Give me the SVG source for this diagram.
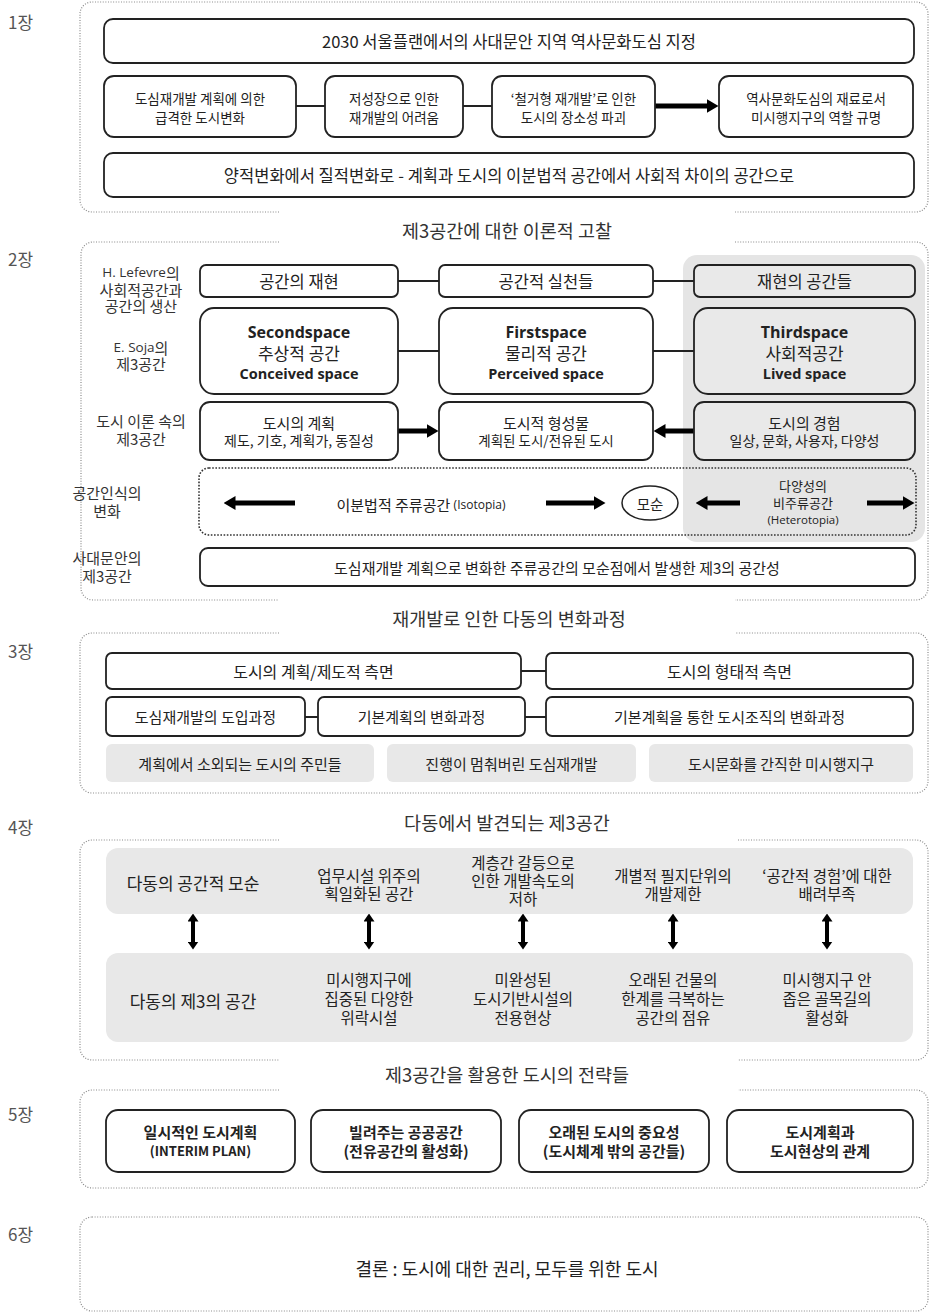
<svg xmlns="http://www.w3.org/2000/svg" width="930" height="1315" viewBox="0 0 930 1315">
<style>
text{font-family:"Noto Sans CJK KR","Noto Sans",sans-serif;fill:#222;dominant-baseline:central;text-anchor:middle}
.lat{font-family:"Open Sans","Noto Sans CJK KR",sans-serif}
.ch{font-size:17px;fill:#555;text-anchor:start}
.ttl{font-size:18.5px;fill:#333}
.frame{fill:none;stroke:#8a8a8a;stroke-width:1.2;stroke-dasharray:1 1.6}
.box{fill:#fff;stroke:#222;stroke-width:1.8}
.gbox{fill:#e9e9e9;stroke:#222;stroke-width:1.8}
.gray{fill:#e8e8e8;stroke:none}
.ln{stroke:#222;stroke-width:2;fill:none}
.arr{stroke:#000;stroke-width:5;fill:none}
.darr{stroke:#000;stroke-width:4;fill:none}
.lbl{font-size:15px;fill:#333}
.b{font-weight:bold}
</style>
<defs>
<marker id="ah" viewBox="0 0 12 14" markerWidth="12" markerHeight="14" refX="0.5" refY="7" markerUnits="userSpaceOnUse" orient="auto-start-reverse"><path d="M0,0 L12,7 L0,14 z" fill="#000"/></marker>
<marker id="ahs" viewBox="0 0 8 11" markerWidth="8" markerHeight="11" refX="0.5" refY="5.5" markerUnits="userSpaceOnUse" orient="auto-start-reverse"><path d="M0,0 L8,5.5 L0,11 z" fill="#000"/></marker>
</defs>

<!-- chapter frames -->
<g id="frames">
<path class="frame" d="M279 212 L92 212 A12 12 0 0 1 80 200 L80 14 A12 12 0 0 1 92 2 L916 2 A12 12 0 0 1 928 14 L928 200 A12 12 0 0 1 916 212 L735 212"/>
<path class="frame" d="M279 242 L93 242 A12 12 0 0 0 81 254 L81 588 A12 12 0 0 0 93 600 L279 600"/>
<path class="frame" d="M735 242 L916 242 A12 12 0 0 1 928 254 L928 588 A12 12 0 0 1 916 600 L735 600"/>
<path class="frame" d="M279 633 L92 633 A12 12 0 0 0 80 645 L80 781 A12 12 0 0 0 92 793 L916 793 A12 12 0 0 0 928 781 L928 645 A12 12 0 0 0 916 633 L735 633"/>
<path class="frame" d="M279 840 L92 840 A12 12 0 0 0 80 852 L80 1048 A12 12 0 0 0 92 1060 L279 1060"/>
<path class="frame" d="M738 840 L916 840 A12 12 0 0 1 928 852 L928 1048 A12 12 0 0 1 916 1060 L738 1060"/>
<path class="frame" d="M279 1090 L92 1090 A12 12 0 0 0 80 1102 L80 1176 A12 12 0 0 0 92 1188 L916 1188 A12 12 0 0 0 928 1176 L928 1102 A12 12 0 0 0 916 1090 L738 1090"/>
<rect class="frame" x="80" y="1217" width="848" height="94" rx="12"/>
</g>

<!-- chapter labels and titles -->
<g id="labels">
<text class="ch" x="8" y="21">1장</text>
<text class="ch" x="8" y="258">2장</text>
<text class="ch" x="8" y="650">3장</text>
<text class="ch" x="8" y="826">4장</text>
<text class="ch" x="8" y="1113">5장</text>
<text class="ch" x="8" y="1233">6장</text>
<text class="ttl" x="507" y="230">제3공간에 대한 이론적 고찰</text>
<text class="ttl" x="509" y="618">재개발로 인한 다동의 변화과정</text>
<text class="ttl" x="507" y="822">다동에서 발견되는 제3공간</text>
<text class="ttl" x="507" y="1074">제3공간을 활용한 도시의 전략들</text>
</g>

<!-- background panels -->
<g id="panels">
<rect x="683" y="255" width="242" height="287" rx="14" fill="#e5e5e5"/>
<rect class="gray" x="106" y="848" width="807" height="66" rx="12"/>
<rect class="gray" x="106" y="953" width="807" height="89" rx="12"/>
</g>

<!-- connectors -->
<g id="connectors">
<line class="ln" x1="296" y1="106" x2="325" y2="106"/>
<line class="ln" x1="463" y1="106" x2="492" y2="106"/>
<line class="arr" x1="655" y1="106" x2="707" y2="106" marker-end="url(#ah)"/>
<line class="ln" x1="398" y1="281" x2="439" y2="281"/>
<line class="ln" x1="653" y1="281" x2="694" y2="281"/>
<line class="ln" x1="398" y1="351" x2="439" y2="351"/>
<line class="ln" x1="653" y1="351" x2="694" y2="351"/>
<line class="arr" x1="398" y1="431" x2="427" y2="431" marker-end="url(#ah)"/>
<line class="arr" x1="694" y1="431" x2="665" y2="431" marker-end="url(#ah)"/>
<line class="arr" x1="295" y1="503" x2="235" y2="503" marker-end="url(#ah)"/>
<line class="arr" x1="546" y1="503" x2="594" y2="503" marker-end="url(#ah)"/>
<line class="arr" x1="740" y1="503" x2="707" y2="503" marker-end="url(#ah)"/>
<line class="arr" x1="867" y1="503" x2="903" y2="503" marker-end="url(#ah)"/>
<line class="ln" x1="521" y1="671" x2="546" y2="671" stroke-width="2.5"/>
<line class="ln" x1="305" y1="717" x2="318" y2="717" stroke-width="2.5"/>
<line class="ln" x1="525" y1="717" x2="546" y2="717" stroke-width="2.5"/>
<line class="darr" x1="193" y1="921" x2="193" y2="942" marker-start="url(#ahs)" marker-end="url(#ahs)"/>
<line class="darr" x1="369" y1="921" x2="369" y2="942" marker-start="url(#ahs)" marker-end="url(#ahs)"/>
<line class="darr" x1="523" y1="921" x2="523" y2="942" marker-start="url(#ahs)" marker-end="url(#ahs)"/>
<line class="darr" x1="673" y1="921" x2="673" y2="942" marker-start="url(#ahs)" marker-end="url(#ahs)"/>
<line class="darr" x1="827" y1="921" x2="827" y2="942" marker-start="url(#ahs)" marker-end="url(#ahs)"/>
</g>

<!-- chapter 1 -->
<g id="c1-a"><rect class="box" x="104" y="19" width="810" height="44" rx="9"/><text x="509" y="41" font-size="16.5">2030 서울플랜에서의 사대문안 지역 역사문화도심 지정</text></g>
<g id="c1-b1"><rect class="box" x="104" y="76" width="192" height="61" rx="10"/><text font-size="13.5"><tspan x="200" y="98">도심재개발 계획에 의한</tspan><tspan x="200" y="117">급격한 도시변화</tspan></text></g>
<g id="c1-b2"><rect class="box" x="325" y="76" width="138" height="61" rx="10"/><text font-size="13.5"><tspan x="394" y="98">저성장으로 인한</tspan><tspan x="394" y="117">재개발의 어려움</tspan></text></g>
<g id="c1-b3"><rect class="box" x="492" y="76" width="163" height="61" rx="10"/><text font-size="13.5"><tspan x="573.5" y="98">‘철거형 재개발’로 인한</tspan><tspan x="573.5" y="117">도시의 장소성 파괴</tspan></text></g>
<g id="c1-b4"><rect class="box" x="719" y="76" width="194" height="61" rx="10"/><text font-size="13.5"><tspan x="816" y="98">역사문화도심의 재료로서</tspan><tspan x="816" y="117">미시행지구의 역할 규명</tspan></text></g>
<g id="c1-c"><rect class="box" x="104" y="153" width="810" height="44" rx="9"/><text x="509" y="175" font-size="16.5">양적변화에서 질적변화로 - 계획과 도시의 이분법적 공간에서 사회적 차이의 공간으로</text></g>

<!-- chapter 2 -->
<g id="c2-labels">
<text class="lbl"><tspan x="141" y="272"><tspan class="lat" font-size="13.5">H. Lefevre</tspan>의</tspan><tspan x="141" y="288.5">사회적공간과</tspan><tspan x="141" y="305">공간의 생산</tspan></text>
<text class="lbl"><tspan x="141" y="347"><tspan class="lat" font-size="13.5">E. Soja</tspan>의</tspan><tspan x="141" y="363">제3공간</tspan></text>
<text class="lbl"><tspan x="141" y="420">도시 이론 속의</tspan><tspan x="141" y="438">제3공간</tspan></text>
<text class="lbl" text-anchor="start"><tspan x="107" y="492">공간인식의</tspan><tspan x="107" y="510">변화</tspan></text>
<text class="lbl" text-anchor="start"><tspan x="107" y="557">사대문안의</tspan><tspan x="107" y="575">제3공간</tspan></text>
</g>
<g id="c2-r1a"><rect class="box" x="200" y="265" width="198" height="32" rx="6"/><text x="299" y="281" font-size="16.5">공간의 재현</text></g>
<g id="c2-r1b"><rect class="box" x="439" y="265" width="214" height="32" rx="6"/><text x="546" y="281" font-size="16.5">공간적 실천들</text></g>
<g id="c2-r1c"><rect class="gbox" x="694" y="265" width="221" height="32" rx="6"/><text x="804.5" y="281" font-size="16.5">재현의 공간들</text></g>
<g id="c2-r2a"><rect class="box" x="200" y="308" width="198" height="86" rx="14"/><text><tspan class="lat b" x="299" y="332" font-size="16">Secondspace</tspan><tspan x="299" y="352" font-size="17">추상적 공간</tspan><tspan class="lat b" x="299" y="373" font-size="14.5">Conceived space</tspan></text></g>
<g id="c2-r2b"><rect class="box" x="439" y="308" width="214" height="86" rx="14"/><text><tspan class="lat b" x="546" y="332" font-size="16">Firstspace</tspan><tspan x="546" y="352" font-size="17">물리적 공간</tspan><tspan class="lat b" x="546" y="373" font-size="14.5">Perceived space</tspan></text></g>
<g id="c2-r2c"><rect class="gbox" x="694" y="308" width="221" height="86" rx="14"/><text><tspan class="lat b" x="804.5" y="332" font-size="16">Thirdspace</tspan><tspan x="804.5" y="352" font-size="17">사회적공간</tspan><tspan class="lat b" x="804.5" y="373" font-size="14.5">Lived space</tspan></text></g>
<g id="c2-r3a"><rect class="box" x="200" y="402" width="198" height="58" rx="10"/><text><tspan x="299" y="422" font-size="15">도시의 계획</tspan><tspan x="299" y="440" font-size="14">제도, 기호, 계획가, 동질성</tspan></text></g>
<g id="c2-r3b"><rect class="box" x="439" y="402" width="214" height="58" rx="10"/><text><tspan x="546" y="422" font-size="15">도시적 형성물</tspan><tspan x="546" y="440" font-size="13.5">계획된 도시/전유된 도시</tspan></text></g>
<g id="c2-r3c"><rect class="gbox" x="694" y="402" width="221" height="58" rx="10"/><text><tspan x="804.5" y="422" font-size="15">도시의 경험</tspan><tspan x="804.5" y="440" font-size="14">일상, 문화, 사용자, 다양성</tspan></text></g>
<g id="c2-r4"><rect x="199" y="468" width="717" height="67" rx="10" fill="none" stroke="#333" stroke-width="1.6" stroke-dasharray="1.6 1.6"/>
<text x="421" y="504" font-size="15" fill="#333">이분법적 주류공간 <tspan class="lat" font-size="12">(Isotopia)</tspan></text></g>
<g id="c2-conflict"><ellipse cx="650" cy="503" rx="28" ry="17" fill="#fff" stroke="#222" stroke-width="1.5"/><text x="650" y="503" font-size="14.5">모순</text></g>
<g id="c2-hetero"><text fill="#444"><tspan x="803" y="485" font-size="13">다양성의</tspan><tspan x="803" y="502" font-size="13">비주류공간</tspan><tspan class="lat" x="803" y="519" font-size="11.5">(Heterotopia)</tspan></text></g>
<g id="c2-r5"><rect class="box" x="200" y="548" width="715" height="38" rx="8"/><text x="557" y="567" font-size="15">도심재개발 계획으로 변화한 주류공간의 모순점에서 발생한 제3의 공간성</text></g>

<!-- chapter 3 -->
<g id="c3-r1a"><rect class="box" x="106" y="653" width="415" height="36" rx="6"/><text x="313.5" y="671" font-size="16">도시의 계획/제도적 측면</text></g>
<g id="c3-r1b"><rect class="box" x="546" y="653" width="367" height="36" rx="6"/><text x="729.5" y="671" font-size="16">도시의 형태적 측면</text></g>
<g id="c3-r2a"><rect class="box" x="106" y="697" width="199" height="39" rx="6"/><text x="205.5" y="716.5" font-size="15">도심재개발의 도입과정</text></g>
<g id="c3-r2b"><rect class="box" x="318" y="697" width="207" height="39" rx="6"/><text x="421.5" y="716.5" font-size="15">기본계획의 변화과정</text></g>
<g id="c3-r2c"><rect class="box" x="546" y="697" width="367" height="39" rx="6"/><text x="729.5" y="716.5" font-size="15">기본계획을 통한 도시조직의 변화과정</text></g>
<g id="c3-r3a"><rect class="gray" x="106" y="744" width="268" height="38" rx="6"/><text x="240" y="763" font-size="15">계획에서 소외되는 도시의 주민들</text></g>
<g id="c3-r3b"><rect class="gray" x="387" y="744" width="249" height="38" rx="6"/><text x="511.5" y="763" font-size="15">진행이 멈춰버린 도심재개발</text></g>
<g id="c3-r3c"><rect class="gray" x="649" y="744" width="264" height="38" rx="6"/><text x="781" y="763" font-size="15">도시문화를 간직한 미시행지구</text></g>

<!-- chapter 4 -->
<g id="c4-u1"><text x="193" y="882" font-size="17">다동의 공간적 모순</text></g>
<g id="c4-u2"><text font-size="15.5"><tspan x="369" y="875">업무시설 위주의</tspan><tspan x="369" y="893">획일화된 공간</tspan></text></g>
<g id="c4-u3"><text font-size="15.5"><tspan x="523" y="862">계층간 갈등으로</tspan><tspan x="523" y="880">인한 개발속도의</tspan><tspan x="523" y="898">저하</tspan></text></g>
<g id="c4-u4"><text font-size="15.5"><tspan x="673" y="875">개별적 필지단위의</tspan><tspan x="673" y="893">개발제한</tspan></text></g>
<g id="c4-u5"><text font-size="15.5"><tspan x="827" y="875">‘공간적 경험’에 대한</tspan><tspan x="827" y="893">배려부족</tspan></text></g>
<g id="c4-l1"><text x="193" y="1000" font-size="17">다동의 제3의 공간</text></g>
<g id="c4-l2"><text font-size="15.5"><tspan x="369" y="979">미시행지구에</tspan><tspan x="369" y="998">집중된 다양한</tspan><tspan x="369" y="1017">위락시설</tspan></text></g>
<g id="c4-l3"><text font-size="15.5"><tspan x="523" y="979">미완성된</tspan><tspan x="523" y="998">도시기반시설의</tspan><tspan x="523" y="1017">전용현상</tspan></text></g>
<g id="c4-l4"><text font-size="15.5"><tspan x="673" y="979">오래된 건물의</tspan><tspan x="673" y="998">한계를 극복하는</tspan><tspan x="673" y="1017">공간의 점유</tspan></text></g>
<g id="c4-l5"><text font-size="15.5"><tspan x="827" y="979">미시행지구 안</tspan><tspan x="827" y="998">좁은 골목길의</tspan><tspan x="827" y="1017">활성화</tspan></text></g>

<!-- chapter 5 -->
<g id="c5-1"><rect class="box" x="106" y="1110" width="189" height="62" rx="12" stroke-width="2"/><text class="b"><tspan x="200.5" y="1131" font-size="15">일시적인 도시계획</tspan><tspan x="200.5" y="1150" font-size="13">(INTERIM PLAN)</tspan></text></g>
<g id="c5-2"><rect class="box" x="311" y="1110" width="190" height="62" rx="12" stroke-width="2"/><text class="b" font-size="15"><tspan x="406" y="1131">빌려주는 공공공간</tspan><tspan x="406" y="1150">(전유공간의 활성화)</tspan></text></g>
<g id="c5-3"><rect class="box" x="519" y="1110" width="190" height="62" rx="12" stroke-width="2"/><text class="b" font-size="15"><tspan x="614" y="1131">오래된 도시의 중요성</tspan><tspan x="614" y="1150">(도시체계 밖의 공간들)</tspan></text></g>
<g id="c5-4"><rect class="box" x="727" y="1110" width="186" height="62" rx="12" stroke-width="2"/><text class="b" font-size="15"><tspan x="820" y="1131">도시계획과</tspan><tspan x="820" y="1150">도시현상의 관계</tspan></text></g>

<!-- chapter 6 -->
<g id="c6"><text x="507" y="1268" font-size="18">결론 : 도시에 대한 권리, 모두를 위한 도시</text></g>
</svg>
